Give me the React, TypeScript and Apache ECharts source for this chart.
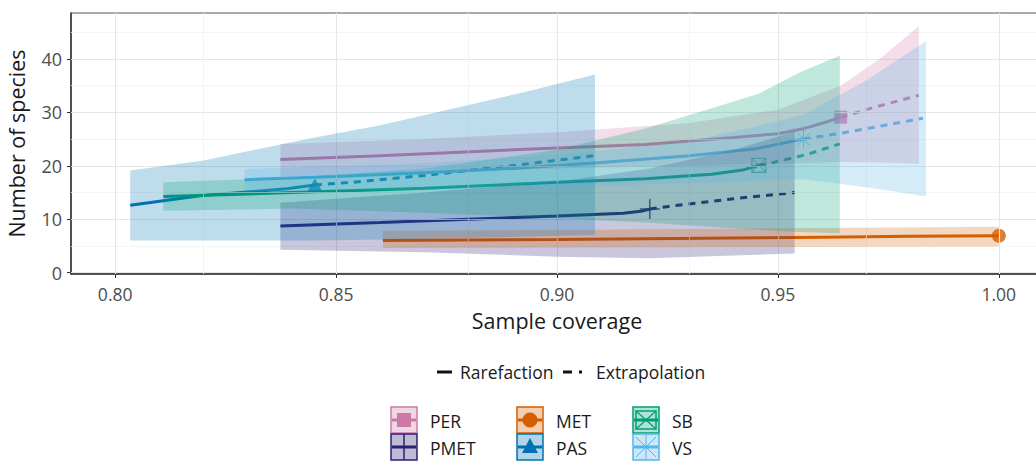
import React, { useEffect, useRef } from "react";
import * as echarts from "echarts";

// ---------- axis ticks ----------
const xTicks = [0.8, 0.85, 0.9, 0.95, 1.0];
const yTicks = [0, 10, 20, 30, 40];
const xMinor = [0.825, 0.875, 0.925, 0.975];
const yMinor = [5, 15, 25, 35, 45];

// ---------- PER ----------
const perRareCov = [0.8374, 0.86, 0.89, 0.92, 0.94, 0.95, 0.956, 0.961, 0.9642];
const perRareVal = [21.2, 21.9, 23.0, 24.0, 25.3, 26.0, 27.0, 28.2, 29.1];
const perExtCov = [0.9642, 0.968, 0.972, 0.977, 0.9819];
const perExtVal = [29.1, 30.0, 31.0, 32.1, 33.2];
const perObs = [0.9642, 29.1];
const perBandCov = [0.8374, 0.87, 0.9, 0.93, 0.95, 0.9642, 0.973, 0.9819];
const perBandLo = [18.0, 18.8, 19.5, 20.0, 20.4, 20.7, 20.6, 20.4];
const perBandHi = [24.1, 25.0, 26.3, 28.0, 30.5, 35.0, 40.0, 46.1];

// ---------- PMET ----------
const pmetRareCov = [0.8374, 0.86, 0.88, 0.9, 0.915, 0.919, 0.921];
const pmetRareVal = [8.75, 9.4, 10.0, 10.6, 11.1, 11.5, 11.9];
const pmetExtCov = [0.921, 0.9253, 0.9395, 0.9538];
const pmetExtVal = [11.9, 12.4, 13.8, 15.0];
const pmetObs = [0.921, 11.9];
const pmetBandCov = [0.8374, 0.87, 0.9, 0.921, 0.94, 0.9538];
const pmetBandLo = [4.3, 3.8, 3.0, 2.7, 3.2, 3.6];
const pmetBandHi = [13.1, 15.0, 17.0, 19.5, 23.0, 26.4];

// ---------- MET ----------
const metRareCov = [0.8606, 0.88, 0.9, 0.92, 0.94, 0.96, 0.98, 1.0];
const metRareVal = [6.0, 6.1, 6.2, 6.35, 6.5, 6.65, 6.8, 6.9];
const metExtCov: number[] = [];
const metExtVal: number[] = [];
const metObs = [1.0, 6.9];
const metBandCov = [0.8606, 0.9, 0.95, 1.0];
const metBandLo = [4.6, 4.7, 4.8, 4.9];
const metBandHi = [7.8, 8.0, 8.3, 8.6];

// ---------- PAS ----------
const pasRareCov = [0.8034, 0.8192, 0.8388, 0.8452];
const pasRareVal = [12.6, 14.4, 15.7, 16.4];
const pasExtCov = [0.8452, 0.855, 0.87, 0.8916, 0.9086];
const pasExtVal = [16.4, 17.0, 18.2, 20.2, 21.9];
const pasObs = [0.8452, 16.4];
const pasBandCov = [0.8034, 0.82, 0.8374, 0.8452, 0.86, 0.8916, 0.9086];
const pasBandLo = [6.0, 6.0, 6.0, 6.0, 6.2, 6.7, 7.1];
const pasBandHi = [19.1, 21.0, 24.0, 25.3, 27.6, 33.6, 37.1];

// ---------- SB ----------
const sbRareCov = [0.8109, 0.84, 0.87, 0.9, 0.92, 0.935, 0.942, 0.9457];
const sbRareVal = [14.25, 15.0, 15.8, 16.9, 17.6, 18.4, 19.2, 20.1];
const sbExtCov = [0.9457, 0.9488, 0.9565, 0.964];
const sbExtVal = [20.1, 20.6, 22.1, 24.1];
const sbObs = [0.9457, 20.1];
const sbBandCov = [0.8109, 0.84, 0.87, 0.9, 0.92, 0.9457, 0.955, 0.964];
const sbBandLo = [11.6, 12.0, 11.2, 10.2, 9.4, 8.0, 7.6, 7.4];
const sbBandHi = [16.9, 17.8, 19.5, 23.0, 27.0, 33.5, 37.5, 40.6];

// ---------- VS ----------
const vsRareCov = [0.8293, 0.85, 0.87, 0.89, 0.91, 0.93, 0.945, 0.9558];
const vsRareVal = [17.4, 18.0, 18.7, 19.5, 20.6, 21.9, 23.2, 25.0];
const vsExtCov = [0.9558, 0.9642, 0.973, 0.9828];
const vsExtVal = [25.0, 26.1, 27.4, 28.9];
const vsObs = [0.9558, 25.0];
const vsBandCov = [0.8293, 0.87, 0.9, 0.93, 0.9558, 0.97, 0.9835];
const vsBandLo = [15.2, 15.5, 16.0, 16.8, 17.5, 16.0, 14.3];
const vsBandHi = [19.4, 20.5, 22.0, 24.5, 29.5, 36.0, 43.3];

const legendRows = [
  ["PER", "MET", "SB"],
  ["PMET", "PAS", "VS"],
];

// ---------- styles ----------
const FONT = "'Open Sans', 'Noto Sans', sans-serif";
const COL: Record<string, string> = {
  PER: "#CC79A7",
  PMET: "#2B1F73",
  MET: "#D55E00",
  PAS: "#0072B2",
  SB: "#009E73",
  VS: "#56B4E9",
};
const BAND_ALPHA = 0.25;

function rgba(hex: string, a: number) {
  const n = parseInt(hex.slice(1), 16);
  return `rgba(${(n >> 16) & 255},${(n >> 8) & 255},${n & 255},${a})`;
}

const SYM: Record<string, { symbol: string; size: number | number[]; filled: boolean; bw?: number }> = {
  PER: { symbol: "rect", size: 13, filled: true },
  MET: { symbol: "circle", size: 14, filled: true },
  PAS: { symbol: "triangle", size: [15, 13], filled: true },
  PMET: { symbol: "path://M10,0L10,20M0,10L20,10", size: 20, filled: false, bw: 1.5 },
  SB: { symbol: "path://M0,0L20,0L20,20L0,20ZM0,0L20,20M20,0L0,20", size: 14, filled: false, bw: 1 },
  VS: { symbol: "path://M10,0L10,20M0,10L20,10M3,3L17,17M17,3L3,17", size: 18, filled: false, bw: 1 },
};

const groups = [
  { name: "PER", rc: perRareCov, rv: perRareVal, ec: perExtCov, ev: perExtVal, obs: perObs, bc: perBandCov, bl: perBandLo, bh: perBandHi },
  { name: "PMET", rc: pmetRareCov, rv: pmetRareVal, ec: pmetExtCov, ev: pmetExtVal, obs: pmetObs, bc: pmetBandCov, bl: pmetBandLo, bh: pmetBandHi },
  { name: "MET", rc: metRareCov, rv: metRareVal, ec: metExtCov, ev: metExtVal, obs: metObs, bc: metBandCov, bl: metBandLo, bh: metBandHi },
  { name: "PAS", rc: pasRareCov, rv: pasRareVal, ec: pasExtCov, ev: pasExtVal, obs: pasObs, bc: pasBandCov, bl: pasBandLo, bh: pasBandHi },
  { name: "SB", rc: sbRareCov, rv: sbRareVal, ec: sbExtCov, ev: sbExtVal, obs: sbObs, bc: sbBandCov, bl: sbBandLo, bh: sbBandHi },
  { name: "VS", rc: vsRareCov, rv: vsRareVal, ec: vsExtCov, ev: vsExtVal, obs: vsObs, bc: vsBandCov, bl: vsBandLo, bh: vsBandHi },
];

const zip = (a: number[], b: number[]) => a.map((v, i) => [v, b[i]]);

function legendKey(name: string, x: number, y: number): any[] {
  const c = COL[name];
  const s = 26;
  const cx = x + s / 2;
  const cy = y + s / 2;
  const els: any[] = [
    { type: "rect", shape: { x, y, width: s, height: s }, style: { fill: rgba(c, BAND_ALPHA + 0.05), stroke: c, lineWidth: 1.5 } },
    { type: "line", shape: { x1: x + 1, y1: cy, x2: x + s - 1, y2: cy }, style: { stroke: c, lineWidth: 3 } },
  ];
  if (name === "PER") els.push({ type: "rect", shape: { x: cx - 7, y: cy - 7, width: 14, height: 14 }, style: { fill: c } });
  if (name === "MET") els.push({ type: "circle", shape: { cx, cy, r: 7.5 }, style: { fill: c } });
  if (name === "PAS") els.push({ type: "polygon", shape: { points: [[cx, cy - 9], [cx - 8, cy + 6], [cx + 8, cy + 6]] }, style: { fill: c } });
  if (name === "PMET") {
    els.push({ type: "line", shape: { x1: cx, y1: y, x2: cx, y2: y + s }, style: { stroke: c, lineWidth: 1.5 } });
  }
  if (name === "SB") {
    els.push({ type: "rect", shape: { x: cx - 10, y: cy - 9, width: 20, height: 18 }, style: { fill: "none", stroke: c, lineWidth: 1.5 } });
    els.push({ type: "line", shape: { x1: cx - 10, y1: cy - 9, x2: cx + 10, y2: cy + 9 }, style: { stroke: c, lineWidth: 1.2 } });
    els.push({ type: "line", shape: { x1: cx + 10, y1: cy - 9, x2: cx - 10, y2: cy + 9 }, style: { stroke: c, lineWidth: 1.2 } });
  }
  if (name === "VS") {
    els.push({ type: "line", shape: { x1: cx, y1: y + 1, x2: cx, y2: y + s - 1 }, style: { stroke: c, lineWidth: 1 } });
    els.push({ type: "line", shape: { x1: x + 3, y1: y + 3, x2: x + s - 3, y2: y + s - 3 }, style: { stroke: c, lineWidth: 1 } });
    els.push({ type: "line", shape: { x1: x + s - 3, y1: y + 3, x2: x + 3, y2: y + s - 3 }, style: { stroke: c, lineWidth: 1 } });
  }
  return els;
}

export default function App() {
  const ref = useRef<HTMLDivElement>(null);
  useEffect(() => {
    document.body.style.margin = "0";
    if (!ref.current) return;
    const chart = echarts.init(ref.current, null, { renderer: "svg" });

    const series: any[] = [];
    // minor grid lines
    series.push({
      type: "line",
      data: [],
      z: 1,
      silent: true,
      markLine: {
        silent: true,
        symbol: "none",
        label: { show: false },
        animation: false,
        lineStyle: { color: "#f1f1f1", width: 0.8, type: "solid" },
        data: [...xMinor.map((v) => ({ xAxis: v })), ...yMinor.map((v) => ({ yAxis: v }))],
      },
    });
    // major grid lines
    series.push({
      type: "line",
      data: [],
      z: 1,
      silent: true,
      markLine: {
        silent: true,
        symbol: "none",
        label: { show: false },
        animation: false,
        lineStyle: { color: "#e6e6e6", width: 1.1, type: "solid" },
        data: [...xTicks.map((v) => ({ xAxis: v })), ...yTicks.map((v) => ({ yAxis: v }))],
      },
    });

    groups.forEach((g) => {
      const c = COL[g.name];
      series.push({
        type: "line",
        name: g.name + " rarefaction",
        data: zip(g.rc, g.rv),
        showSymbol: false,
        symbol: "none",
        z: 3,
        lineStyle: { color: c, width: 3, type: "solid", cap: "butt" },
      });
      if (g.ec.length) {
        series.push({
          type: "line",
          name: g.name + " extrapolation",
          data: zip(g.ec, g.ev),
          showSymbol: false,
          symbol: "none",
          z: 3,
          lineStyle: { color: c, width: 3, type: [7, 6], cap: "butt" },
        });
      }
      const sy = SYM[g.name];
      series.push({
        type: "scatter",
        name: g.name + " observed",
        data: [g.obs],
        z: 4,
        symbol: sy.symbol,
        symbolSize: sy.size,
        itemStyle: sy.filled
          ? { color: c }
          : { color: "rgba(0,0,0,0)", borderColor: c, borderWidth: sy.bw },
      });
    });

    groups.forEach((g) => {
      const fill = rgba(COL[g.name], BAND_ALPHA);
      series.push({
        type: "custom",
        name: g.name + " band",
        z: 5,
        silent: true,
        clip: true,
        data: g.bc.map((v, i) => [v, g.bl[i], g.bh[i]]),
        renderItem: (params: any, api: any) => {
          if (params.dataIndex !== 0) return null;
          const pts: number[][] = [];
          for (let i = 0; i < g.bc.length; i++) pts.push(api.coord([g.bc[i], g.bh[i]]));
          for (let i = g.bc.length - 1; i >= 0; i--) pts.push(api.coord([g.bc[i], g.bl[i]]));
          return { type: "polygon", shape: { points: pts }, style: { fill } };
        },
      });
    });

    const graphics: any[] = [];
    // linetype legend
    graphics.push({ type: "line", shape: { x1: 437, y1: 372, x2: 452, y2: 372 }, style: { stroke: "#111", lineWidth: 3 } });
    graphics.push({ type: "text", x: 460, y: 372, style: { text: "Rarefaction", font: `17.5px ${FONT}`, fill: "#1a1a1a", textVerticalAlign: "middle" } });
    graphics.push({ type: "line", shape: { x1: 563, y1: 372, x2: 582, y2: 372 }, style: { stroke: "#111", lineWidth: 3, lineDash: [9, 7] } });
    graphics.push({ type: "text", x: 596, y: 372, style: { text: "Extrapolation", font: `17.5px ${FONT}`, fill: "#1a1a1a", textVerticalAlign: "middle" } });

    const colX = [391, 517, 633];
    const rowY = [407, 434];
    legendRows.forEach((row, ri) => {
      row.forEach((name, ci) => {
        graphics.push(...legendKey(name, colX[ci], rowY[ri]));
        graphics.push({
          type: "text",
          x: colX[ci] + 39,
          y: rowY[ri] + 14,
          style: { text: name, font: `17.5px ${FONT}`, fill: "#1a1a1a", textVerticalAlign: "middle" },
        });
      });
    });

    const near = (v: number, step: number) => Math.abs(v / step - Math.round(v / step)) < 1e-6;

    chart.setOption({
      animation: false,
      backgroundColor: "#ffffff",
      grid: {
        left: 71,
        top: 13,
        width: 972,
        height: 261,
        show: true,
        borderColor: "#555",
        borderWidth: 1,
        backgroundColor: "#fff",
        containLabel: false,
        outerBoundsMode: "none",
      },
      xAxis: {
        type: "value",
        min: 0.79,
        max: 1.01,
        name: "Sample coverage",
        nameLocation: "middle",
        nameGap: 35,
        nameTextStyle: { fontSize: 21.5, color: "#1a1a1a", fontFamily: FONT },
        axisLine: { show: true, onZero: false, lineStyle: { color: "#333", width: 1.5 } },
        axisTick: { show: true, length: 4, customValues: xTicks, lineStyle: { color: "#333", width: 1 } },
        axisLabel: {
          customValues: xTicks,
          margin: 11,
          fontSize: 17.5,
          color: "#4d4d4d",
          fontFamily: FONT,
          formatter: (v: number) => (near(v, 0.05) ? v.toFixed(2) : ""),
        },
        splitLine: { show: false },
      },
      yAxis: {
        type: "value",
        min: -0.25,
        max: 48.6,
        name: "Number of species",
        nameLocation: "middle",
        nameGap: 44,
        nameTextStyle: { fontSize: 21.5, color: "#1a1a1a", fontFamily: FONT },
        axisLine: { show: true, onZero: false, lineStyle: { color: "#333", width: 1.5 } },
        axisTick: { show: true, length: 4, customValues: yTicks, lineStyle: { color: "#333", width: 1 } },
        axisLabel: {
          customValues: yTicks,
          margin: 9,
          fontSize: 18,
          color: "#4d4d4d",
          fontFamily: FONT,
          formatter: (v: number) => (near(v, 10) ? String(Math.round(v)) : ""),
        },
        splitLine: { show: false },
      },
      graphic: graphics,
      series,
    });
    return () => chart.dispose();
  }, []);
  return <div ref={ref} style={{ width: 1036, height: 461 }} />;
}
